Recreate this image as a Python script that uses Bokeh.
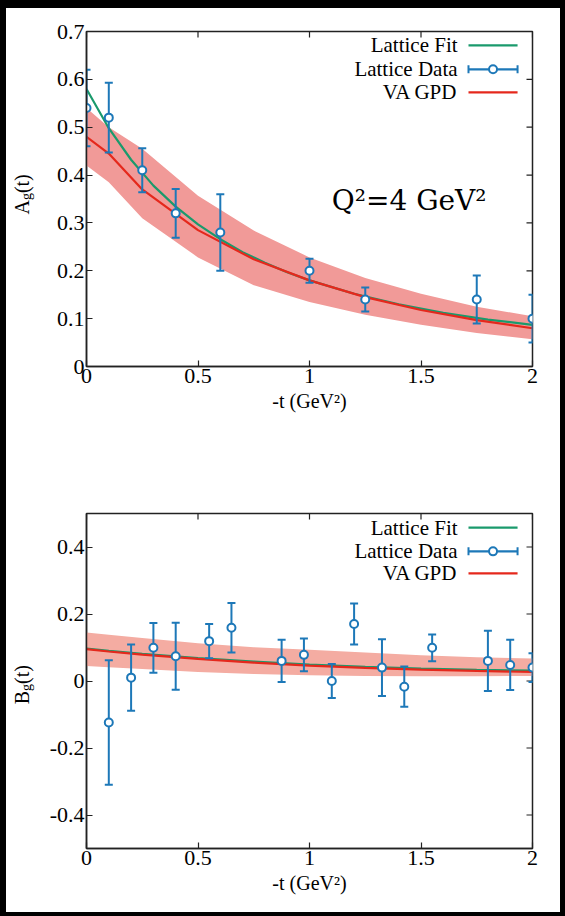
import math
from bokeh.plotting import figure
from bokeh.models import Range1d, FixedTicker, Label, NumeralTickFormatter
from bokeh.layouts import column, row
from bokeh.embed import file_html
from bokeh.resources import INLINE

# ---------------- data: A_g(t) ----------------
tA_data = [0.0, 0.1, 0.25, 0.4, 0.6, 1.0, 1.25, 1.75, 2.0]
A_data = [0.54, 0.52, 0.41, 0.32, 0.28, 0.20, 0.14, 0.14, 0.10]
A_err = [0.08, 0.073, 0.046, 0.051, 0.08, 0.025, 0.025, 0.05, 0.05]

tA_fit = [0.0, 0.1, 0.2, 0.3, 0.4, 0.5, 0.6, 0.7, 0.8, 0.9, 1.0, 1.2, 1.4, 1.6, 1.8, 2.0]
A_fit = [0.58, 0.498, 0.432, 0.378, 0.334, 0.297, 0.266, 0.239, 0.217, 0.197, 0.180,
         0.152, 0.130, 0.112, 0.098, 0.087]

tA_va = [0.0, 0.1, 0.25, 0.5, 0.75, 1.0, 1.25, 1.5, 1.75, 2.0]
A_va = [0.48, 0.445, 0.37, 0.285, 0.224, 0.18, 0.145, 0.118, 0.097, 0.08]
A_va_hi = [0.54, 0.50, 0.455, 0.357, 0.284, 0.228, 0.185, 0.152, 0.125, 0.105]
A_va_lo = [0.42, 0.385, 0.31, 0.228, 0.17, 0.135, 0.108, 0.087, 0.07, 0.057]

# ---------------- data: B_g(t) ----------------
tB_data = [0.1, 0.2, 0.3, 0.4, 0.55, 0.65, 0.875, 0.975, 1.1, 1.2, 1.325, 1.425, 1.55, 1.8, 1.9, 2.0]
B_data = [-0.124, 0.01, 0.099, 0.074, 0.119, 0.159, 0.06, 0.078, 0.0, 0.17, 0.04, -0.017,
          0.099, 0.06, 0.048, 0.04]
B_err = [0.186, 0.099, 0.074, 0.1, 0.051, 0.074, 0.063, 0.049, 0.051, 0.061, 0.085, 0.06,
         0.04, 0.09, 0.075, 0.043]

tB_curve = [0.0, 0.1, 0.25, 0.5, 0.75, 1.0, 1.25, 1.5, 1.75, 2.0]
B_fit = [0.097, 0.090, 0.081, 0.068, 0.058, 0.049, 0.042, 0.037, 0.033, 0.031]
B_va = [0.095, 0.088, 0.079, 0.066, 0.055, 0.046, 0.039, 0.034, 0.030, 0.027]
B_va_hi = [0.145, 0.138, 0.128, 0.113, 0.101, 0.093, 0.085, 0.077, 0.071, 0.067]
B_va_lo = [0.045, 0.041, 0.036, 0.027, 0.021, 0.017, 0.015, 0.014, 0.014, 0.015]

x_ticks = [0, 0.5, 1, 1.5, 2]
yA_ticks = [0, 0.1, 0.2, 0.3, 0.4, 0.5, 0.6, 0.7]
yB_ticks = [-0.4, -0.2, 0, 0.2, 0.4]

legend_labels = ["Lattice Fit", "Lattice Data", "VA GPD"]

# ---------------- style ----------------
GREEN = "#1a9a6c"
BLUE = "#1d78b8"
RED = "#e5281c"
FONT = "Liberation Serif"
AXIS_COLOR = "#222222"
LABEL_W = 30


def style_axis(ax, ticks):
    ax.ticker = FixedTicker(ticks=ticks)
    ax.formatter = NumeralTickFormatter(format="0.[0]")
    ax.major_tick_in = 6
    ax.major_tick_out = 0
    ax.minor_tick_line_color = None
    ax.major_tick_line_color = AXIS_COLOR
    ax.major_tick_line_width = 1.2
    ax.axis_line_color = AXIS_COLOR
    ax.axis_line_width = 1.5
    ax.major_label_text_font = FONT
    ax.major_label_text_font_size = "22px"
    ax.major_label_text_color = "black"
    ax.major_label_standoff = 2
    ax.axis_label_text_font = FONT
    ax.axis_label_text_font_style = "normal"
    ax.axis_label_text_font_size = "20px"
    ax.axis_label_text_color = "black"
    ax.axis_label_standoff = 4


def make_fig(height, top, bottom, yr, yticks):
    p = figure(width=554 - LABEL_W, height=height, output_backend="svg",
               toolbar_location=None, x_range=Range1d(0, 2), y_range=Range1d(*yr),
               min_border_left=86 - 6 - LABEL_W, min_border_right=28,
               min_border_top=top, min_border_bottom=bottom)
    p.grid.visible = False
    p.outline_line_color = AXIS_COLOR
    p.outline_line_width = 1.5
    p.background_fill_color = "white"
    p.border_fill_color = "white"
    style_axis(p.xaxis[0], x_ticks)
    style_axis(p.yaxis[0], yticks)
    p.xaxis[0].axis_label = "-t (GeV²)"
    # mirrored inward ticks on the top and right edges (outer half clipped by the frame)
    p.scatter(x_ticks, [yr[1]] * len(x_ticks), marker="dash", angle=math.pi / 2, size=12,
              line_color=AXIS_COLOR, line_width=1.2)
    p.scatter([2] * len(yticks), yticks, marker="dash", size=12,
              line_color=AXIS_COLOR, line_width=1.2)
    return p


def draw(p, t_curve_fit, fit, t_va, va, va_hi, va_lo, t_d, d, err, band_color):
    p.varea(x=t_va, y1=va_lo, y2=va_hi, fill_color=band_color, fill_alpha=1.0)
    p.line(t_curve_fit, fit, line_color=GREEN, line_width=2.2)
    p.line(t_va, va, line_color=RED, line_width=2.2)
    lo = [a - e for a, e in zip(d, err)]
    hi = [a + e for a, e in zip(d, err)]
    p.segment(x0=t_d, y0=lo, x1=t_d, y1=hi, line_color=BLUE, line_width=2)
    p.scatter(t_d, lo, marker="dash", size=8, line_color=BLUE, line_width=2)
    p.scatter(t_d, hi, marker="dash", size=8, line_color=BLUE, line_width=2)
    p.scatter(t_d, d, marker="circle", size=8, fill_color="white", line_color=BLUE,
              line_width=2)


def legend(p, rows, x_text, x0, x1):
    colors = [GREEN, BLUE, RED]
    for lab, y, c in zip(legend_labels, rows, colors):
        p.add_layout(Label(x=x_text, y=y, text=lab, text_align="right",
                           text_baseline="middle", text_font=FONT,
                           text_font_size="21px", text_color="black"))
        p.segment(x0=[x0], y0=[y], x1=[x1], y1=[y], line_color=c, line_width=2.2)
        if lab == "Lattice Data":
            p.scatter([x0, x1], [y, y], marker="dash", angle=math.pi / 2, size=8,
                      line_color=BLUE, line_width=2)
            p.scatter([(x0 + x1) / 2], [y], marker="circle", size=8, fill_color="white",
                      line_color=BLUE, line_width=2)


def label_strip(height, sy_from_top, main):
    """Narrow figure holding the rotated y-axis title (main letter, subscript g, (t))."""
    f = figure(width=LABEL_W, height=height, output_backend="svg", toolbar_location=None,
               x_range=Range1d(0, LABEL_W), y_range=Range1d(0, height),
               x_axis_type=None, y_axis_type=None,
               min_border=0, min_border_left=0, min_border_right=0,
               min_border_top=0, min_border_bottom=0)
    f.grid.visible = False
    f.outline_line_color = None
    f.background_fill_color = "white"
    f.border_fill_color = "white"
    y = height - sy_from_top
    x = 21.5 - 6
    common = dict(angle=math.pi / 2, text_baseline="middle", text_font=FONT,
                  text_color="black")
    f.add_layout(Label(x=x, y=y, text=main, text_align="right",
                       text_font_size="20px", **common))
    f.add_layout(Label(x=x, y=y, text="g", text_align="left",
                       text_font_size="14px", x_offset=4, **common))
    f.add_layout(Label(x=x, y=y, text="(t)", text_align="left",
                       text_font_size="20px", y_offset=7, **common))
    return f


# ---------------- top panel ----------------
p1 = make_fig(447, 23, 89, (0, 0.7), yA_ticks)
draw(p1, tA_fit, A_fit, tA_va, A_va, A_va_hi, A_va_lo, tA_data, A_data, A_err, "#f19a98")
legend(p1, [0.671, 0.621, 0.573], 1.664, 1.713, 1.933)
p1.add_layout(Label(x=1.10, y=0.347, text="Q²=4 GeV²", text_baseline="middle",
                    text_font="DejaVu Serif", text_font_size="28px", text_color="black"))
l1 = label_strip(447, 225, "A")

# ---------------- bottom panel ----------------
p2 = make_fig(457, 58, 64, (-0.5, 0.5), yB_ticks)
draw(p2, tB_curve, B_fit, tB_curve, B_va, B_va_hi, B_va_lo, tB_data, B_data, B_err, "#f4aca2")
legend(p2, [0.458, 0.387, 0.321], 1.664, 1.713, 1.933)
l2 = label_strip(457, 242, "B")

layout = column(row(l1, p1, spacing=0), row(l2, p2, spacing=0), spacing=0,
                styles={"border-style": "solid", "border-color": "black",
                        "border-width": "8px 5px 4px 6px", "background-color": "white"})

open("out.html", "w").write(file_html(layout, INLINE))
